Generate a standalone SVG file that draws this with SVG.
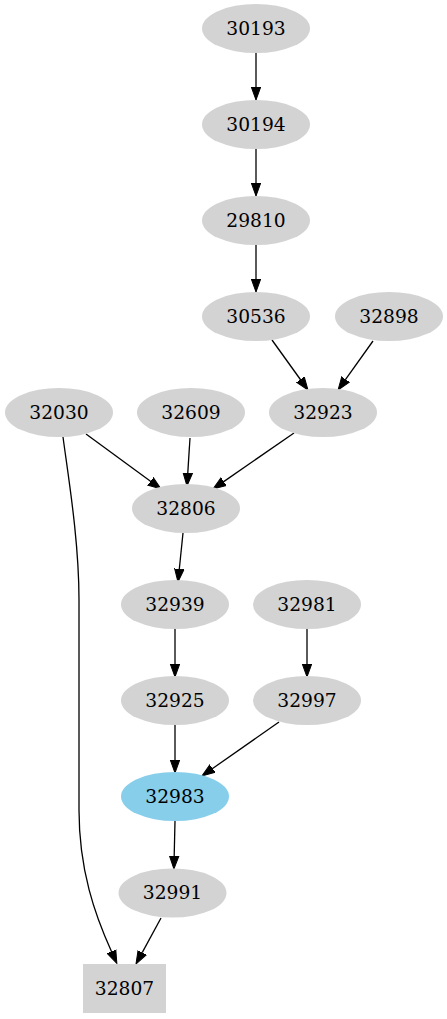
<svg xmlns="http://www.w3.org/2000/svg" width="447" height="1019" viewBox="0 0 447 1019">
<style>
.n ellipse, .n rect { fill: #d3d3d3; stroke: none; }
.n text { font-family: "DejaVu Serif", "Liberation Serif", serif; font-size: 18.67px; fill: #000; text-anchor: middle; }
#edges path { fill: none; stroke: #000; stroke-width: 1.3; marker-end: url(#arr); }
</style>
<defs>
<marker id="arr" markerUnits="userSpaceOnUse" markerWidth="14" markerHeight="12" refX="0" refY="0" viewBox="0 -6 14 12" orient="auto">
<path d="M0,-4.7 L13,0 L0,4.7 z" fill="#000" stroke="#000" stroke-width="1"/>
</marker>
</defs>
<rect width="447" height="1019" fill="#fff"/>
<g id="edges">
<path d="M256,53 L256,87"/>
<path d="M256,149 L256,183"/>
<path d="M256,245 L256,279"/>
<path d="M272,340 L300.4,379.5"/>
<path d="M373,341 L345.6,379.4"/>
<path d="M86,434 L150.5,481.3"/>
<path d="M190,438 L187.8,473"/>
<path d="M294,433 L223.7,481.6"/>
<path d="M183,533 L179.3,569"/>
<path d="M175,629 L175,664"/>
<path d="M307,629 L307,664"/>
<path d="M175,725 L175,760"/>
<path d="M279,722 L212.6,768.5"/>
<path d="M175,821 L174.2,856"/>
<path d="M161,918 L142.2,952.6"/>
<path d="M63,437 C68,475 79,540 79,600 L79,810 C79,870 95,915 111.5,951.5"/>
</g>
<g id="n30193" class="n"><ellipse cx="256" cy="28.5" rx="54" ry="24.5"/><text x="256" y="34.5">30193</text></g>
<g id="n30194" class="n"><ellipse cx="256" cy="124.5" rx="54" ry="24.5"/><text x="256" y="130.5">30194</text></g>
<g id="n29810" class="n"><ellipse cx="256" cy="220.5" rx="54" ry="24.5"/><text x="256" y="226.5">29810</text></g>
<g id="n30536" class="n"><ellipse cx="256" cy="316.5" rx="54" ry="24.5"/><text x="256" y="322.5">30536</text></g>
<g id="n32898" class="n"><ellipse cx="389" cy="316.5" rx="54" ry="24.5"/><text x="389" y="322.5">32898</text></g>
<g id="n32030" class="n"><ellipse cx="59" cy="412.5" rx="54" ry="24.5"/><text x="59" y="418.5">32030</text></g>
<g id="n32609" class="n"><ellipse cx="191" cy="412.5" rx="54" ry="24.5"/><text x="191" y="418.5">32609</text></g>
<g id="n32923" class="n"><ellipse cx="323" cy="412.5" rx="54" ry="24.5"/><text x="323" y="418.5">32923</text></g>
<g id="n32806" class="n"><ellipse cx="186" cy="508.5" rx="54" ry="24.5"/><text x="186" y="514.5">32806</text></g>
<g id="n32939" class="n"><ellipse cx="175" cy="604.5" rx="54" ry="24.5"/><text x="175" y="610.5">32939</text></g>
<g id="n32981" class="n"><ellipse cx="307" cy="604.5" rx="54" ry="24.5"/><text x="307" y="610.5">32981</text></g>
<g id="n32925" class="n"><ellipse cx="175" cy="700.5" rx="54" ry="24.5"/><text x="175" y="706.5">32925</text></g>
<g id="n32997" class="n"><ellipse cx="307" cy="700.5" rx="54" ry="24.5"/><text x="307" y="706.5">32997</text></g>
<g id="n32983" class="n"><ellipse cx="175" cy="796.5" rx="54" ry="24.5" style="fill:#87ceeb"/><text x="175" y="802.5">32983</text></g>
<g id="n32991" class="n"><ellipse cx="172.5" cy="893" rx="54" ry="24.5"/><text x="172.5" y="899">32991</text></g>
<g id="n32807" class="n"><rect x="83" y="964" width="83" height="49"/><text x="124.5" y="995">32807</text></g>
</svg>
